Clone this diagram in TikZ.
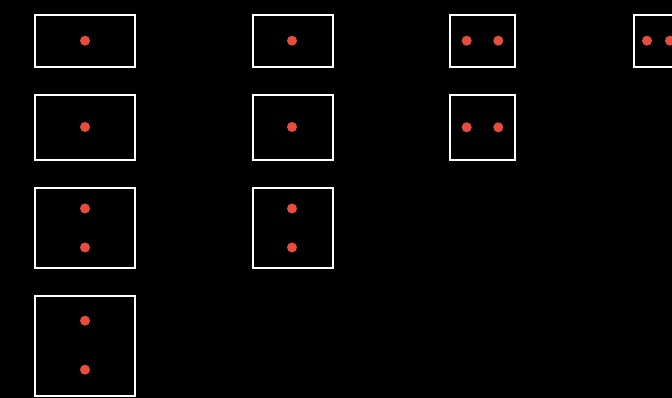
\documentclass[tikz,border=0pt]{standalone}
\usepackage{tikz}
\usetikzlibrary{positioning}
\definecolor{dotred}{RGB}{231,76,60}

\begin{document}
\begin{tikzpicture}[x=1pt, y=-1pt,
    box/.style={draw=white, line width=2pt},
    dot/.style={fill=dotred}]
    % Background
    \fill[black] (0,0) rectangle (672,398);
    \useasboundingbox (0,0) rectangle (672,398);
    \clip (0,0) rectangle (672,398);

    \def\r{5}; % dot radius

    % Column 1
    \draw[box] (35,15) rectangle (135.3,66.7);
    \draw[box] (35,95) rectangle (135.3,160);
    \draw[box] (35,188) rectangle (135.3,267.5);
    \draw[box] (35,296.3) rectangle (135.3,395.7);
    \fill[dot] (85,40.7) circle (\r);
    \fill[dot] (85,127) circle (\r);
    \fill[dot] (85,208.5) circle (\r);
    \fill[dot] (85,247.5) circle (\r);
    \fill[dot] (85,320.7) circle (\r);
    \fill[dot] (85,369.7) circle (\r);

    % Column 2
    \draw[box] (253,15) rectangle (332.5,66.7);
    \draw[box] (253,95) rectangle (332.5,160);
    \draw[box] (253,188) rectangle (332.5,267.5);
    \fill[dot] (292,40.7) circle (\r);
    \fill[dot] (292,127) circle (\r);
    \fill[dot] (292,208.5) circle (\r);
    \fill[dot] (292,247.5) circle (\r);

    % Column 3
    \draw[box] (450,15) rectangle (515.3,66.7);
    \draw[box] (450,94.7) rectangle (515.3,160);
    \foreach \y in {40.7,127.3}{
        \fill[dot] (466.7,\y) circle (\r);
        \fill[dot] (498.3,\y) circle (\r);
    }

    % Column 4 (cut off at the edge)
    \draw[box] (633.5,15) rectangle (700,66.7);
    \fill[dot] (647,40.7) circle (\r);
    \fill[dot] (670,40.7) circle (\r);
\end{tikzpicture}
\end{document}
